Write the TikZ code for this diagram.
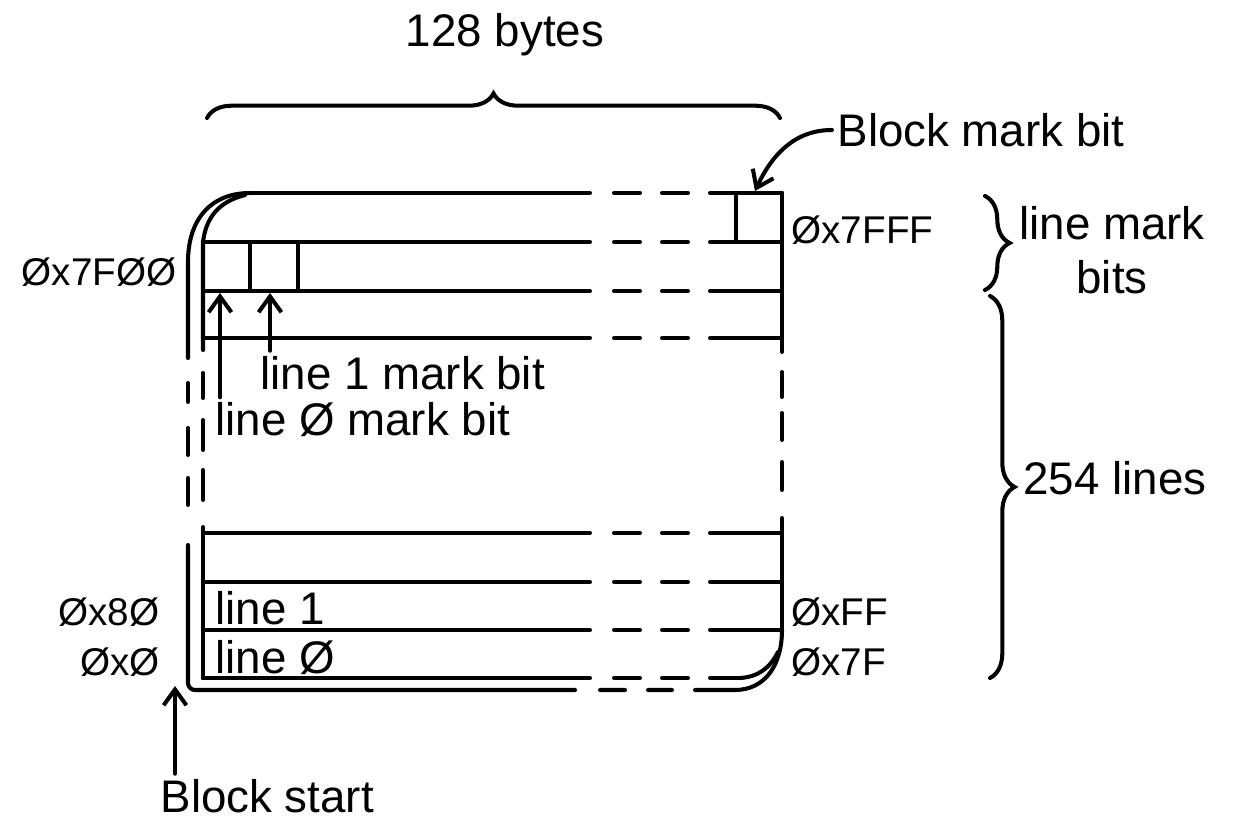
\documentclass[tikz,border=0pt]{standalone}
\usepackage{fontspec}
\setmainfont{Liberation Sans}
\usetikzlibrary{arrows.meta,positioning,calc,decorations.pathreplacing}

\begin{document}
\begin{tikzpicture}[x=0.02cm, y=-0.02cm, line width=2.3pt, line cap=round,
  hw/.style={font=\fontsize{26}{31}\selectfont, inner sep=2pt},
  hx/.style={font=\fontsize{22}{26}\selectfont, inner sep=2pt},
  arr/.style={-{Straight Barb[length=9pt,width=13pt]}},
  brc/.style={decorate, decoration={brace, amplitude=14pt}}
]
  \useasboundingbox (0,0) rectangle (1238,827);

  %% Rows of the block
  \foreach \y in {242,291,338,533,582,630}
    \draw (203,\y) -- (590,\y) (614,\y) -- (640,\y) (662,\y) -- (688,\y) (710,\y) -- (782,\y);
  \draw (250,193) -- (590,193) (614,193) -- (640,193) (662,193) -- (688,193) (710,193) -- (782,193);
  \draw (203,678) -- (590,678) (614,678) -- (640,678) (662,678) -- (688,678) (710,678) -- (740,678);

  %% Outer edge, top left corner
  \draw (188,358) -- (188,262) .. controls (188,218) and (212,193) .. (250,193);
  \draw (203,350) -- (203,242) .. controls (206,218) and (218,202) .. (245,195);
  \draw (188,383) -- (188,402) (188,428) -- (188,455) (188,478) -- (188,505);
  \draw (203,373) -- (203,398) (203,420) -- (203,450) (203,470) -- (203,500);
  \draw[rounded corners=4pt] (188,545) -- (188,690) -- (575,690);
  \draw (203,527) -- (203,678);

  %% Right edge, bottom right corner
  \draw (782,193) -- (782,352);
  \draw (782,372) -- (782,397) (782,413) -- (782,440) (782,462) -- (782,490);
  \draw (782,518) -- (782,630);
  \draw (600,690) -- (625,690) (648,690) -- (672,690)
    (695,690) -- (735,690) .. controls (765,690) and (782,665) .. (782,630);
  \draw (740,678) .. controls (758,677) and (770,668) .. (778,652);

  %% Mark bits
  \draw (736,193) -- (736,242);
  \draw (250,242) -- (250,291) (298,242) -- (298,291);
  \coordinate (bmbit) at (755,191);
  \coordinate (l0bit) at (220,293);
  \coordinate (l1bit) at (270,293);
  \coordinate (blkst) at (175,686);

  %% Top brace
  \draw[brc] (207,118) -- (780,118);
  \node[hw] (bytes) at (505,35) {128 bytes};

  %% Right braces
  \draw[brc] (985,196) -- (985,290);
  \node[hw, align=center] (lmb) at (1112,250) {line mark\\bits};
  \draw[brc] (990,296) -- (990,678);
  \node[hw, anchor=west] (lns) at (1018,478) {254 lines};

  %% Labels and arrows
  \node[hw, anchor=west] (bmb) at (832,130) {Block mark bit};
  \draw[arr] (bmb.west) to[out=180,in=65] (bmbit);
  \node[hx, anchor=west] (h7fff) at (786,230) {Øx7FFF};
  \node[hx, anchor=east] (h7f00) at (182,272) {Øx7FØØ};

  \node[hw, anchor=west] (l1mb) at (255,373) {line 1 mark bit};
  \node[hw, anchor=west] (l0mb) at (210,420) {line Ø mark bit};
  \draw[arr] (l1mb.north west -| l1bit) -- (l1bit);
  \draw[arr] (l0mb.north west -| l0bit) -- (l0bit);

  \node[hw, anchor=west] (ln1) at (210,608) {line 1};
  \node[hw, anchor=west] (ln0) at (210,658) {line Ø};
  \node[hx, anchor=east] (h80) at (165,612) {Øx8Ø};
  \node[hx, anchor=east] (h0) at (165,662) {ØxØ};
  \node[hx, anchor=west] (hff) at (786,612) {ØxFF};
  \node[hx, anchor=west] (h7f) at (786,662) {Øx7F};

  \node[hw, anchor=west] (bst) at (155,796) {Block start};
  \draw[arr] (bst.north west -| blkst) -- (blkst);
\end{tikzpicture}
\end{document}
